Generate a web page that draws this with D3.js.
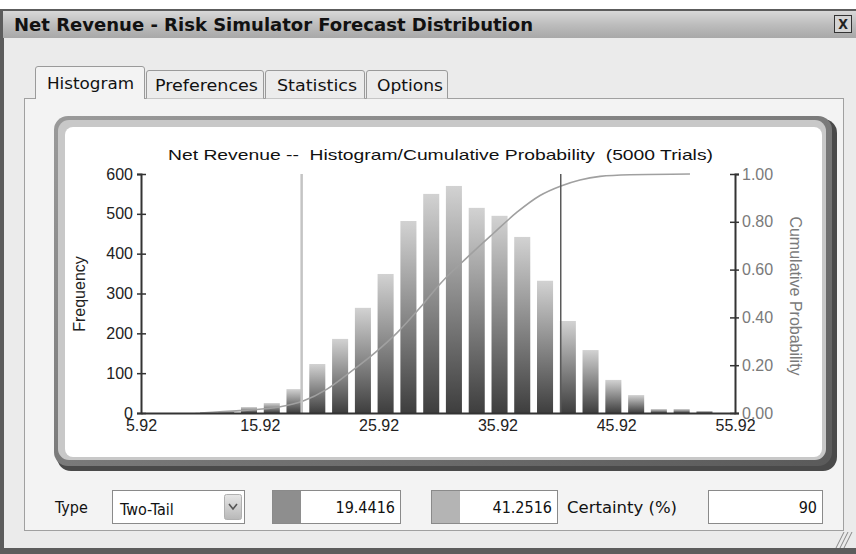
<!DOCTYPE html>
<html><head><meta charset="utf-8">
<script src="https://cdn.jsdelivr.net/npm/d3@7"></script>
<style>html,body{margin:0;padding:0;background:#fff;overflow:hidden}</style>
</head><body><svg id="c" width="856" height="554"></svg>
<script>
// ---------------- DATA ----------------
const binCenters = [11.17,13.09,15.01,16.93,18.84,20.76,22.68,24.60,26.51,28.43,30.35,32.26,34.18,36.10,38.01,39.93,41.85,43.76,45.68,47.60,49.51,51.43,53.35];
const frequencies = [1,3,15,25,60,123,186,264,349,482,550,570,515,495,442,332,231,158,83,45,10,10,5];
const cumValues = [10.89,14.25,17.54,19.56,21.58,23.51,25.45,27.47,29.40,31.09,33.36,35.55,37.57,39.51,41.27,42.87,44.56,47.08,52.13];
const cumProbs  = [0.0,0.01,0.025,0.05,0.10,0.17,0.245,0.335,0.44,0.54,0.65,0.75,0.84,0.91,0.95,0.975,0.99,0.997,1.0];
const xTicks = [5.92,15.92,25.92,35.92,45.92,55.92];
const freqTicks = [0,100,200,300,400,500,600];
const probTicks = [0,0.2,0.4,0.6,0.8,1.0];
const tabs = ["Histogram","Preferences","Statistics","Options"];
const lowerBound = 19.4416, upperBound = 41.2516, certainty = 90;
const chartTitle = "Net Revenue --  Histogram/Cumulative Probability  (5000 Trials)";
const windowTitle = "Net Revenue - Risk Simulator Forecast Distribution";
const tailType = "Two-Tail";
const barUnitWidth = 1.35;

// ---------------- DRAW ----------------
const svg = d3.select("#c");
const defs = svg.append("defs");
const ui = "'DejaVu Sans Condensed','Liberation Sans Narrow','Liberation Sans',sans-serif";
const chartFont = "'Liberation Sans',Arial,sans-serif";

function lg(id, stops, x2, y2){
  const g = defs.append("linearGradient").attr("id",id).attr("x1",0).attr("y1",0).attr("x2",x2).attr("y2",y2);
  stops.forEach(s=>g.append("stop").attr("offset",s[0]).attr("stop-color",s[1]));
}
lg("barG",[[0,"#d2d2d2"],[1,"#3e3e3e"]],0,1);
lg("titleG",[[0,"#d8d8d8"],[0.5,"#bdbdbd"],[1,"#a8a8a8"]],0,1);
lg("frameG",[[0,"#9a9a9a"],[1,"#5a5a5a"]],1,1);
lg("btnG",[[0,"#e6e6e6"],[1,"#b8b8b8"]],0,1);

// window
svg.append("rect").attr("x",0).attr("y",9).attr("width",856).attr("height",545).attr("fill","#5c5c5c");
svg.append("rect").attr("x",3).attr("y",11).attr("width",853).attr("height",27).attr("fill","url(#titleG)");
svg.append("text").attr("x",14).attr("y",31).attr("font-family",ui).attr("font-weight","bold")
  .attr("font-size",17).attr("fill","#111").attr("textLength",519).attr("lengthAdjust","spacingAndGlyphs").text(windowTitle);
svg.append("rect").attr("x",834.5).attr("y",15.5).attr("width",17).attr("height",17).attr("fill","#d4d4d4").attr("stroke","#333");
svg.append("text").attr("x",843).attr("y",29).attr("text-anchor","middle").attr("font-family",ui).attr("font-weight","bold").attr("font-size",14).attr("fill","#222").text("X");
svg.append("rect").attr("x",4).attr("y",38).attr("width",852).attr("height",510).attr("fill","#ebebeb");

// tab panel
svg.append("rect").attr("x",24.5).attr("y",98.5).attr("width",819).attr("height",432).attr("fill","#f3f3f3").attr("stroke","#a0a0a0");
const tabPos = [[35,145],[146,264],[265,365],[366,448]];
const tabText = [[47,134],[155,258],[277,357],[377,443]];
tabs.forEach((t,i)=>{
  const [x0,x1] = tabPos[i];
  const active = i===0;
  const y0 = active?66:70;
  svg.append("path").attr("d",`M${x0+0.5},${active?99:98.5} V${y0+3} Q${x0+0.5},${y0+0.5} ${x0+3},${y0+0.5} H${x1-3} Q${x1-0.5},${y0+0.5} ${x1-0.5},${y0+3} V${active?99:98.5}`)
    .attr("fill",active?"#f3f3f3":"#ececec").attr("stroke","#9a9a9a");
  svg.append("text").attr("x",tabText[i][0]).attr("y",active?89:91).attr("font-family",ui).attr("font-size",16).attr("fill","#111")
    .attr("textLength",tabText[i][1]-tabText[i][0]).attr("lengthAdjust","spacingAndGlyphs").text(t);
});

// chart frame
svg.append("rect").attr("x",57).attr("y",119).attr("width",780).attr("height",352).attr("rx",14).attr("fill","#4a4a4a");
svg.append("rect").attr("x",54).attr("y",116).attr("width",778).attr("height",350).attr("rx",14).attr("fill","url(#frameG)");
svg.append("rect").attr("x",58).attr("y",120).attr("width",768).attr("height",340).attr("rx",11).attr("fill","#c8c8c8");
svg.append("rect").attr("x",65).attr("y",127).attr("width",757).attr("height",330).attr("rx",8).attr("fill","#ffffff");

// scales
const x = d3.scaleLinear().domain([5.92,55.92]).range([141,735]);
const y = d3.scaleLinear().domain([0,600]).range([413,174]);
const yp = d3.scaleLinear().domain([0,1]).range([413,174]);

// bars
svg.append("g").selectAll("rect").data(frequencies).join("rect")
  .attr("x",(d,i)=>x(binCenters[i]-barUnitWidth/2))
  .attr("width",(d,i)=>x(binCenters[i]+barUnitWidth/2)-x(binCenters[i]-barUnitWidth/2))
  .attr("y",d=>y(d)).attr("height",d=>y(0)-y(d)).attr("fill","url(#barG)");

// cumulative curve
const pts = cumValues.map((v,i)=>[v,cumProbs[i]]);
svg.append("path").datum(pts).attr("fill","none").attr("stroke","#a0a0a0").attr("stroke-width",1.6)
  .attr("d",d3.line().x(d=>x(d[0])).y(d=>yp(d[1])).curve(d3.curveMonotoneX));

// bound lines
svg.append("line").attr("x1",x(lowerBound)).attr("x2",x(lowerBound)).attr("y1",y(600)).attr("y2",y(0)).attr("stroke","#c4c4c4").attr("stroke-width",2.5);
svg.append("line").attr("x1",x(upperBound)).attr("x2",x(upperBound)).attr("y1",y(600)).attr("y2",y(0)).attr("stroke","#5a5a5a").attr("stroke-width",1.5);

// axes
const axL = svg.append("g").attr("transform",`translate(${x(5.92)},0)`)
  .call(d3.axisLeft(y).tickValues(freqTicks).tickFormat(d3.format("d")).tickSize(4).tickPadding(4));
const axR = svg.append("g").attr("transform",`translate(${x(55.92)},0)`)
  .call(d3.axisRight(yp).tickValues(probTicks).tickFormat(d3.format(".2f")).tickSize(4).tickPadding(3));
const axB = svg.append("g").attr("transform",`translate(0,${y(0)})`)
  .call(d3.axisBottom(x).tickValues(xTicks).tickFormat(d3.format(".2f")).tickSize(0).tickPadding(9));
[axL,axR,axB].forEach(a=>{
  a.select(".domain").attr("stroke","#333").attr("stroke-width",2);
  a.selectAll(".tick line").attr("stroke","#333").attr("stroke-width",1.5);
  a.selectAll("text").attr("font-family",chartFont).attr("font-size",16).attr("fill","#222");
});
axL.selectAll(".tick line").attr("x2",-4).attr("x1",5);
axR.selectAll(".tick line").attr("x2",4).attr("x1",-5);
axR.selectAll("text").attr("fill","#7a7a7a");
axB.selectAll("text").attr("dy","0.55em");

// chart texts
svg.append("text").attr("x",168).attr("y",160).attr("font-family",chartFont).attr("font-size",15).attr("fill","#111")
  .style("white-space","pre").attr("xml:space","preserve")
  .attr("textLength",545).attr("lengthAdjust","spacingAndGlyphs").text(chartTitle);
svg.append("text").attr("transform","translate(85,294) rotate(-90)").attr("text-anchor","middle")
  .attr("font-family",chartFont).attr("font-size",16).attr("fill","#222").text("Frequency");
svg.append("text").attr("transform","translate(790,296) rotate(90)").attr("text-anchor","middle")
  .attr("font-family",chartFont).attr("font-size",16).attr("fill","#7a7a7a").text("Cumulative Probability");

// bottom controls
const by = 490, bh = 33;
svg.append("text").attr("x",55).attr("y",513).attr("font-family",ui).attr("font-size",16).attr("fill","#111").text("Type");
svg.append("rect").attr("x",112.5).attr("y",by+0.5).attr("width",132).attr("height",bh).attr("fill","#fff").attr("stroke","#8a8a8a");
svg.append("text").attr("x",120).attr("y",515).attr("font-family",ui).attr("font-size",16).attr("fill","#111").text(tailType);
svg.append("rect").attr("x",224.5).attr("y",494.5).attr("width",17).attr("height",25).attr("rx",2).attr("fill","url(#btnG)").attr("stroke","#b0b0b0");
svg.append("path").attr("d","M229,504 L233,509 L237,504").attr("fill","none").attr("stroke","#555").attr("stroke-width",1.6);

function valBox(x0, sw, x1, color, txt){
  svg.append("rect").attr("x",x0+0.5).attr("y",by+0.5).attr("width",x1-x0).attr("height",bh).attr("fill","#fff").attr("stroke","#8a8a8a");
  if(sw) svg.append("rect").attr("x",x0+1).attr("y",by+1).attr("width",sw).attr("height",bh-1).attr("fill",color);
  svg.append("text").attr("x",x1-5).attr("y",513).attr("text-anchor","end").attr("font-family",ui).attr("font-size",16).attr("fill","#111").text(txt);
}
valBox(272,28,400,"#8e8e8e",lowerBound.toFixed(4));
valBox(431,28,557,"#b4b4b4",upperBound.toFixed(4));
svg.append("text").attr("x",567).attr("y",513).attr("font-family",ui).attr("font-size",16).attr("fill","#111")
  .attr("textLength",110).attr("lengthAdjust","spacingAndGlyphs").text("Certainty (%)");
valBox(708,0,822,null,String(certainty));

// resize grip
[0,4,8].forEach(o=>{
  svg.append("line").attr("x1",852-o).attr("y1",532).attr("x2",836-o+8).attr("y2",548).attr("stroke","#888").attr("stroke-width",1);
});
</script></body></html>
